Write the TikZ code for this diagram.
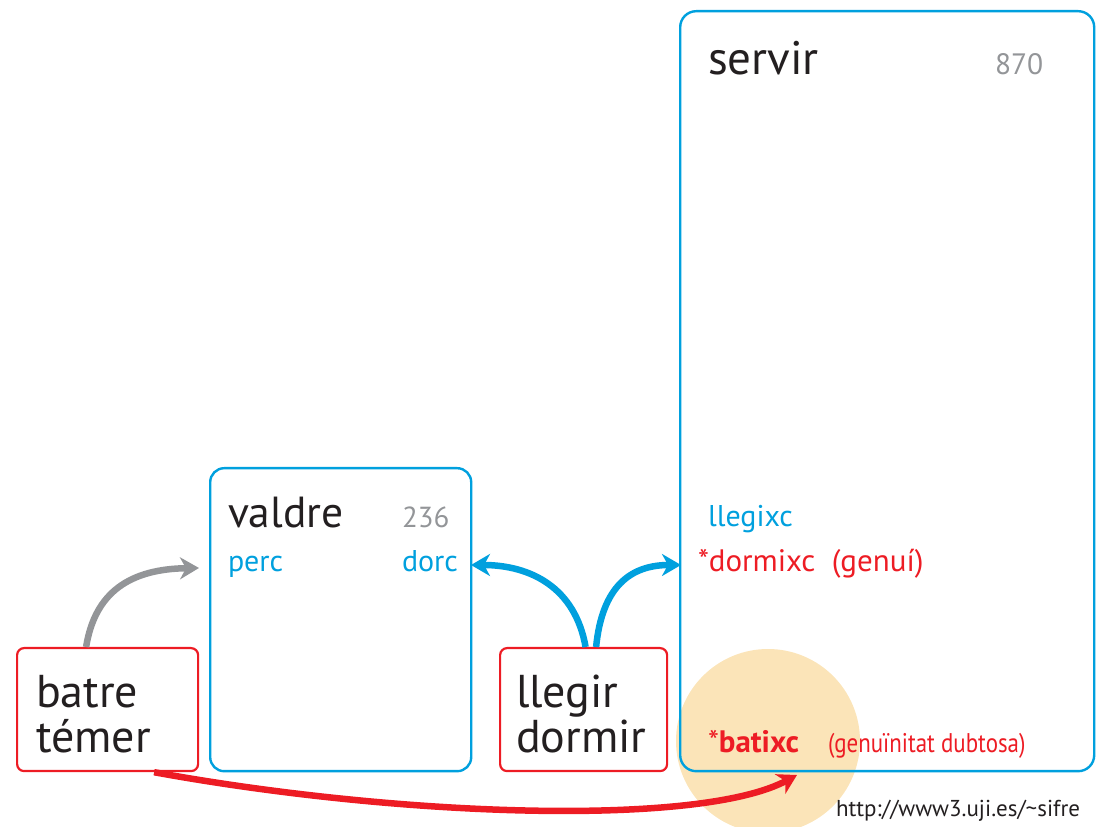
\documentclass[tikz,border=0pt]{standalone}
\usepackage{fontspec}
\setmainfont{PT Sans}
\newfontfamily\condfont[FakeStretch=0.85]{PT Sans}
\usetikzlibrary{arrows.meta}
\definecolor{cblue}{RGB}{0,160,222}
\definecolor{cred}{RGB}{237,28,36}
\definecolor{cgray}{RGB}{147,149,152}
\definecolor{cpeach}{RGB}{251,228,184}
\definecolor{ctext}{RGB}{35,31,32}
\tikzset{
  bluebox/.style={draw=cblue, line width=2.4pt, rounded corners=16pt, anchor=north west, inner sep=0pt},
  redbox/.style={draw=cred, line width=2.2pt, rounded corners=7pt, anchor=north west, inner sep=0pt},
  lbl/.style={anchor=base west, inner sep=0pt, outer sep=0pt},
  conn/.style={-{Stealth[length=19pt, width=22pt, inset=6pt]}, line width=6.5pt},
}
\begin{document}
\begin{tikzpicture}[x=1pt, y=1pt]
\useasboundingbox (0,0) rectangle (1103,827);
% highlight circle
\fill[cpeach] (768,86) circle (92);
% boxes
\node[bluebox, minimum width=414pt, minimum height=760pt] (servir) at (679,817) {};
\node[bluebox, minimum width=261pt, minimum height=303pt, rounded corners=14pt] (valdre) at (209,360) {};
\node[redbox, minimum width=181pt, minimum height=123pt] (batre) at (16,180) {};
\node[redbox, minimum width=167pt, minimum height=123pt] (llegir) at (499,180) {};
% texts in servir
\node[lbl, text=ctext, font=\fontsize{47}{50}\selectfont] (tservir) at (708,752) {servir};
\node[lbl, text=cgray, font=\fontsize{29.5}{32}\selectfont] (n870) at (995,752) {870};
\node[lbl, text=cblue, font=\fontsize{30}{33}\selectfont] (llegixc) at (708,300) {llegixc};
\node[lbl, text=cred, font=\fontsize{31}{33}\selectfont] (dormixc) at (698,255) {*dormixc\ \ (genuí)};
\node[lbl, text=cred, font=\fontsize{31}{33}\selectfont] (batixc) at (708,74) {*\textbf{batixc}};
\node[lbl, text=cred, font=\condfont\fontsize{27}{30}\selectfont] (genu) at (828,74) {(genuïnitat dubtosa)};
% texts in valdre
\node[lbl, text=ctext, font=\fontsize{43.5}{46}\selectfont] (tvaldre) at (228,299) {valdre};
\node[lbl, text=cgray, font=\fontsize{29}{31}\selectfont] (n236) at (402,299) {236};
\node[lbl, text=cblue, font=\fontsize{30}{33}\selectfont] (perc) at (228,255) {perc};
\node[lbl, text=cblue, font=\fontsize{30}{33}\selectfont] (dorc) at (402,255) {dorc};
% texts in red boxes
\node[lbl, text=ctext, font=\fontsize{46}{48}\selectfont] (tbatre) at (36,119) {batre};
\node[lbl, text=ctext, font=\fontsize{46}{48}\selectfont] (ttemer) at (36,74) {témer};
\node[lbl, text=ctext, font=\fontsize{46}{48}\selectfont] (tllegir) at (516,119) {llegir};
\node[lbl, text=ctext, font=\fontsize{46}{48}\selectfont] (tdormir) at (516,74) {dormir};
% url
\node[lbl, text=ctext, font=\fontsize{23}{25}\selectfont] (url) at (836,10) {http://www3.uji.es/\textasciitilde sifre};
% connector end points
\coordinate (gend) at (199,259);
\coordinate (lend) at (471,262);
\coordinate (rend) at (681,262);
\coordinate (redend) at (797,52);
% connectors
\draw[conn, draw=cgray] ([xshift=-21.5pt]batre.north) .. controls (95,235) and (130,258) .. (gend);
\draw[conn, draw=cblue] ([xshift=2pt]llegir.north) .. controls (575,240) and (530,262) .. (lend);
\draw[conn, draw=cblue] ([xshift=12.5pt]llegir.north) .. controls (602,240) and (630,262) .. (rend);
\draw[conn, draw=cred] ([xshift=46.5pt]batre.south) .. controls (400,10) and (700,0) .. (redend);
\end{tikzpicture}
\end{document}
